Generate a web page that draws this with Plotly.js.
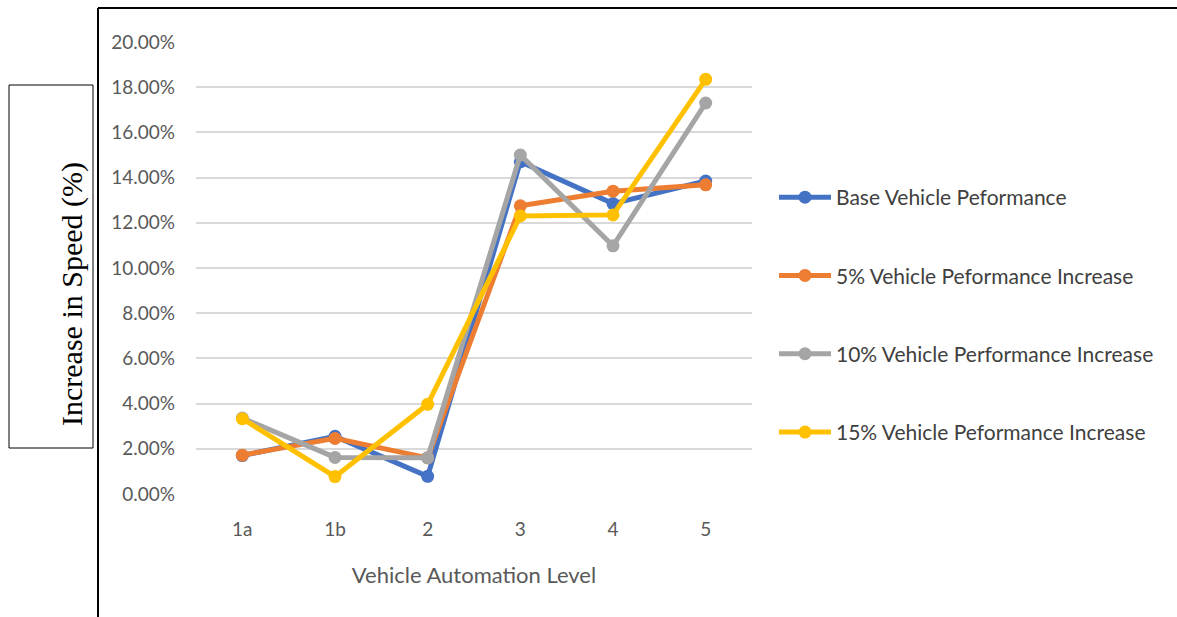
<!DOCTYPE html>
<html><head><meta charset="utf-8">
<script src="https://cdn.plot.ly/plotly-3.0.1.min.js"></script>
<style>html,body{margin:0;padding:0;background:#fff;}#chart{width:1177px;height:617px;}</style>
</head><body><div id="chart"></div>
<script>
const levels = ['1a', '1b', '2', '3', '4', '5'];
const seriesNames = ['Base Vehicle Peformance', '5% Vehicle Peformance Increase', '10% Vehicle Performance Increase', '15% Vehicle Peformance Increase'];
const baseVals = [1.70, 2.55, 0.78, 14.70, 12.85, 13.85];
const inc5Vals = [1.72, 2.46, 1.60, 12.75, 13.40, 13.68];
const inc10Vals = [3.36, 1.62, 1.60, 15.00, 10.98, 17.30];
const inc15Vals = [3.33, 0.77, 3.97, 12.30, 12.35, 18.35];
const colors = ['#4472C4', '#ED7D31', '#A5A5A5', '#FFC000'];
const yTicks = [0, 2, 4, 6, 8, 10, 12, 14, 16, 18, 20];

const allVals = [baseVals, inc5Vals, inc10Vals, inc15Vals];
const traces = allVals.map((v, i) => ({
  x: levels, y: v, type: 'scatter', mode: 'lines+markers',
  name: seriesNames[i], legendgroup: 'g' + i,
  line: {color: colors[i], width: 5},
  marker: {color: colors[i], size: 13}
}));

const L = 196, R = 752, T = 42, B = 494, W = 1177, H = 617;
const px = x => (x - L) / (R - L);
const py = y => (B - y) / (B - T);

const layout = {
  width: W, height: H,
  margin: {l: L, r: W - R, t: T, b: H - B},
  paper_bgcolor: '#fff', plot_bgcolor: '#fff',
  font: {family: 'Lato, "Open Sans", sans-serif', color: '#595959'},
  xaxis: {
    type: 'category', range: [-0.5, 5.5], showgrid: false, zeroline: false, showline: false,
    tickfont: {size: 19, color: '#595959'}, ticks: '', ticklabelstandoff: 22,
    title: {text: 'Vehicle Automation Level', font: {size: 22, color: '#595959'}, standoff: 28}
  },
  yaxis: {
    range: [0, 20], tickvals: yTicks, ticktext: yTicks.map(t => t.toFixed(2) + '%'),
    showgrid: true, gridcolor: '#D9D9D9', gridwidth: 2, zeroline: false, showline: false,
    tickfont: {size: 19, color: '#595959'}, ticks: '', ticklabelstandoff: 20
  },
  showlegend: true,
  legend: {x: px(774), y: py(177), xanchor: 'left', yanchor: 'top', itemwidth: 52,
    font: {size: 21, color: '#404040'}, tracegroupgap: 48, bgcolor: 'rgba(0,0,0,0)'},
  shapes: [
    {type: 'line', xref: 'paper', yref: 'paper', x0: px(98), x1: px(98), y0: py(8), y1: py(620), line: {color: '#000', width: 2}},
    {type: 'line', xref: 'paper', yref: 'paper', x0: px(98), x1: px(1180), y0: py(8), y1: py(8), line: {color: '#000', width: 2}},
    {type: 'rect', xref: 'paper', yref: 'paper', x0: px(9), x1: px(93), y0: py(85), y1: py(448), line: {color: '#000', width: 1}}
  ],
  annotations: [
    {text: 'Increase in Speed (%)', xref: 'paper', yref: 'paper', x: px(53), y: py(294),
     showarrow: false, textangle: -90, font: {family: '"Liberation Serif", "Times New Roman", serif', size: 30, color: '#000'}}
  ]
};
Plotly.newPlot('chart', traces, layout, {displayModeBar: false});
</script></body></html>
